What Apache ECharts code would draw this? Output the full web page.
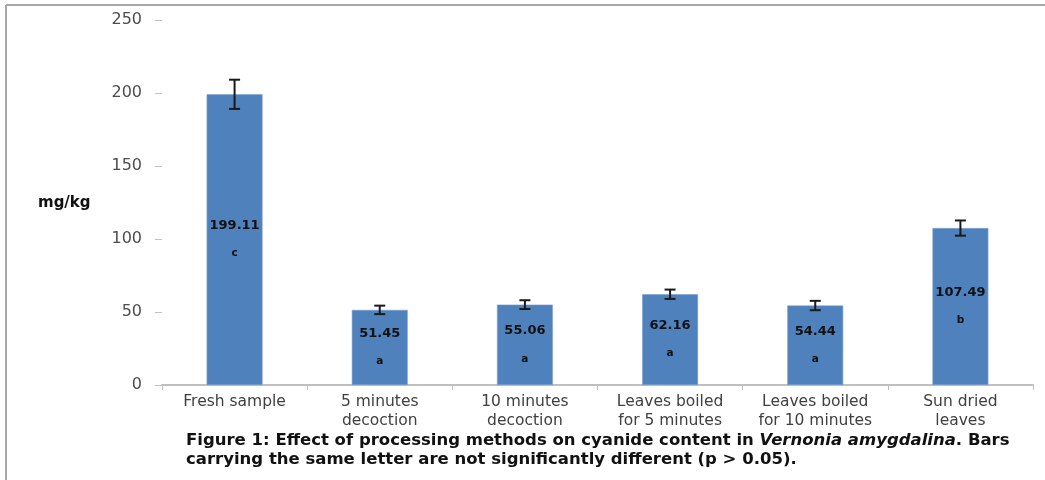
<!DOCTYPE html>
<html>
<head>
<meta charset="utf-8">
<script src="https://cdn.jsdelivr.net/npm/echarts@6/dist/echarts.min.js"></script>
<style>
  html, body { margin: 0; padding: 0; background: #fff; }
  #chart { width: 1045px; height: 480px; }
</style>
</head>
<body>
<div id="chart"></div>
<script>
// Cyanide content (mg/kg) by processing method
const categories = [
  'Fresh sample',
  '5 minutes\ndecoction',
  '10 minutes\ndecoction',
  'Leaves boiled\nfor 5 minutes',
  'Leaves boiled\nfor 10 minutes',
  'Sun dried\nleaves'
];
const means = [199.11, 51.45, 55.06, 62.16, 54.44, 107.49];
const errors = [10.0, 2.9, 3.0, 3.2, 3.2, 5.2];
const letters = ['c', 'a', 'a', 'a', 'a', 'b'];
const yTicks = [0, 50, 100, 150, 200, 250];

const chart = echarts.init(document.getElementById('chart'), null, { renderer: 'canvas' });

const errorData = means.map((m, i) => [i, m - errors[i], m + errors[i]]);

chart.setOption({
  animation: false,
  backgroundColor: '#ffffff',
  grid: { left: 162, right: 12, top: 20, bottom: 95, containLabel: false },
  xAxis: {
    type: 'category',
    data: categories,
    axisLine: { show: true, lineStyle: { color: '#bfbfbf', width: 2 } },
    axisTick: { show: true, alignWithLabel: false, length: 5, lineStyle: { color: '#bfbfbf', width: 1 } },
    axisLabel: {
      color: '#404040',
      fontFamily: 'DejaVu Sans',
      fontSize: 15.5,
      lineHeight: 19,
      margin: 7,
      interval: 0
    }
  },
  yAxis: {
    type: 'value',
    min: yTicks[0],
    max: yTicks[yTicks.length - 1],
    interval: 50,
    axisLine: { show: false },
    axisTick: { show: true, inside: false, length: 7, lineStyle: { color: '#bfbfbf' } },
    splitLine: { show: false },
    axisLabel: {
      color: '#4d4d4d',
      fontFamily: 'DejaVu Sans',
      fontSize: 16,
      margin: 20
    }
  },
  series: [
    {
      type: 'bar',
      data: means,
      barWidth: '38.5%',
      itemStyle: { color: '#4f81bd', borderColor: '#7aa0cf', borderWidth: 0.6 },
      label: {
        show: true,
        position: 'inside',
        formatter: (p) => '{v|' + means[p.dataIndex].toFixed(2) + '}\n{l|' + letters[p.dataIndex] + '}',
        rich: {
          v: { fontFamily: 'DejaVu Sans', fontWeight: 'bold', fontSize: 13, color: '#111', lineHeight: 28 },
          l: { fontFamily: 'DejaVu Sans', fontWeight: 'bold', fontSize: 10.5, color: '#111', lineHeight: 28 }
        }
      },
      z: 2
    },
    {
      type: 'custom',
      data: errorData,
      z: 5,
      renderItem: (params, api) => {
        const x = api.value(0);
        const lo = api.coord([x, api.value(1)]);
        const hi = api.coord([x, api.value(2)]);
        const half = 5.5;
        const style = { stroke: '#1a1a1a', lineWidth: 2 };
        return {
          type: 'group',
          children: [
            { type: 'line', shape: { x1: lo[0], y1: lo[1], x2: hi[0], y2: hi[1] }, style },
            { type: 'line', shape: { x1: hi[0] - half, y1: hi[1], x2: hi[0] + half, y2: hi[1] }, style },
            { type: 'line', shape: { x1: lo[0] - half, y1: lo[1], x2: lo[0] + half, y2: lo[1] }, style }
          ]
        };
      }
    }
  ],
  graphic: [
    // page frame
    { type: 'line', shape: { x1: 6, y1: 5, x2: 1045, y2: 5 }, style: { stroke: '#a6a6a6', lineWidth: 2 } },
    { type: 'line', shape: { x1: 6, y1: 5, x2: 6, y2: 480 }, style: { stroke: '#a6a6a6', lineWidth: 2 } },
    // y-axis unit
    {
      type: 'text', left: 38, top: 196,
      style: { text: 'mg/kg', font: 'bold 15px "DejaVu Sans"', fill: '#111' }
    },
    // caption
    {
      type: 'text', left: 186, top: 432,
      style: {
        text: '{b|Figure 1: Effect of processing methods on cyanide content in }{i|Vernonia amygdalina}{b|. Bars}\n{b|carrying the same letter are not significantly different (p > 0.05).}',
        rich: {
          b: { font: 'bold 16.5px "DejaVu Sans"', fill: '#111', lineHeight: 19 },
          i: { font: 'italic bold 16.5px "DejaVu Sans"', fill: '#111', lineHeight: 19 }
        }
      }
    }
  ]
});
</script>
</body>
</html>
